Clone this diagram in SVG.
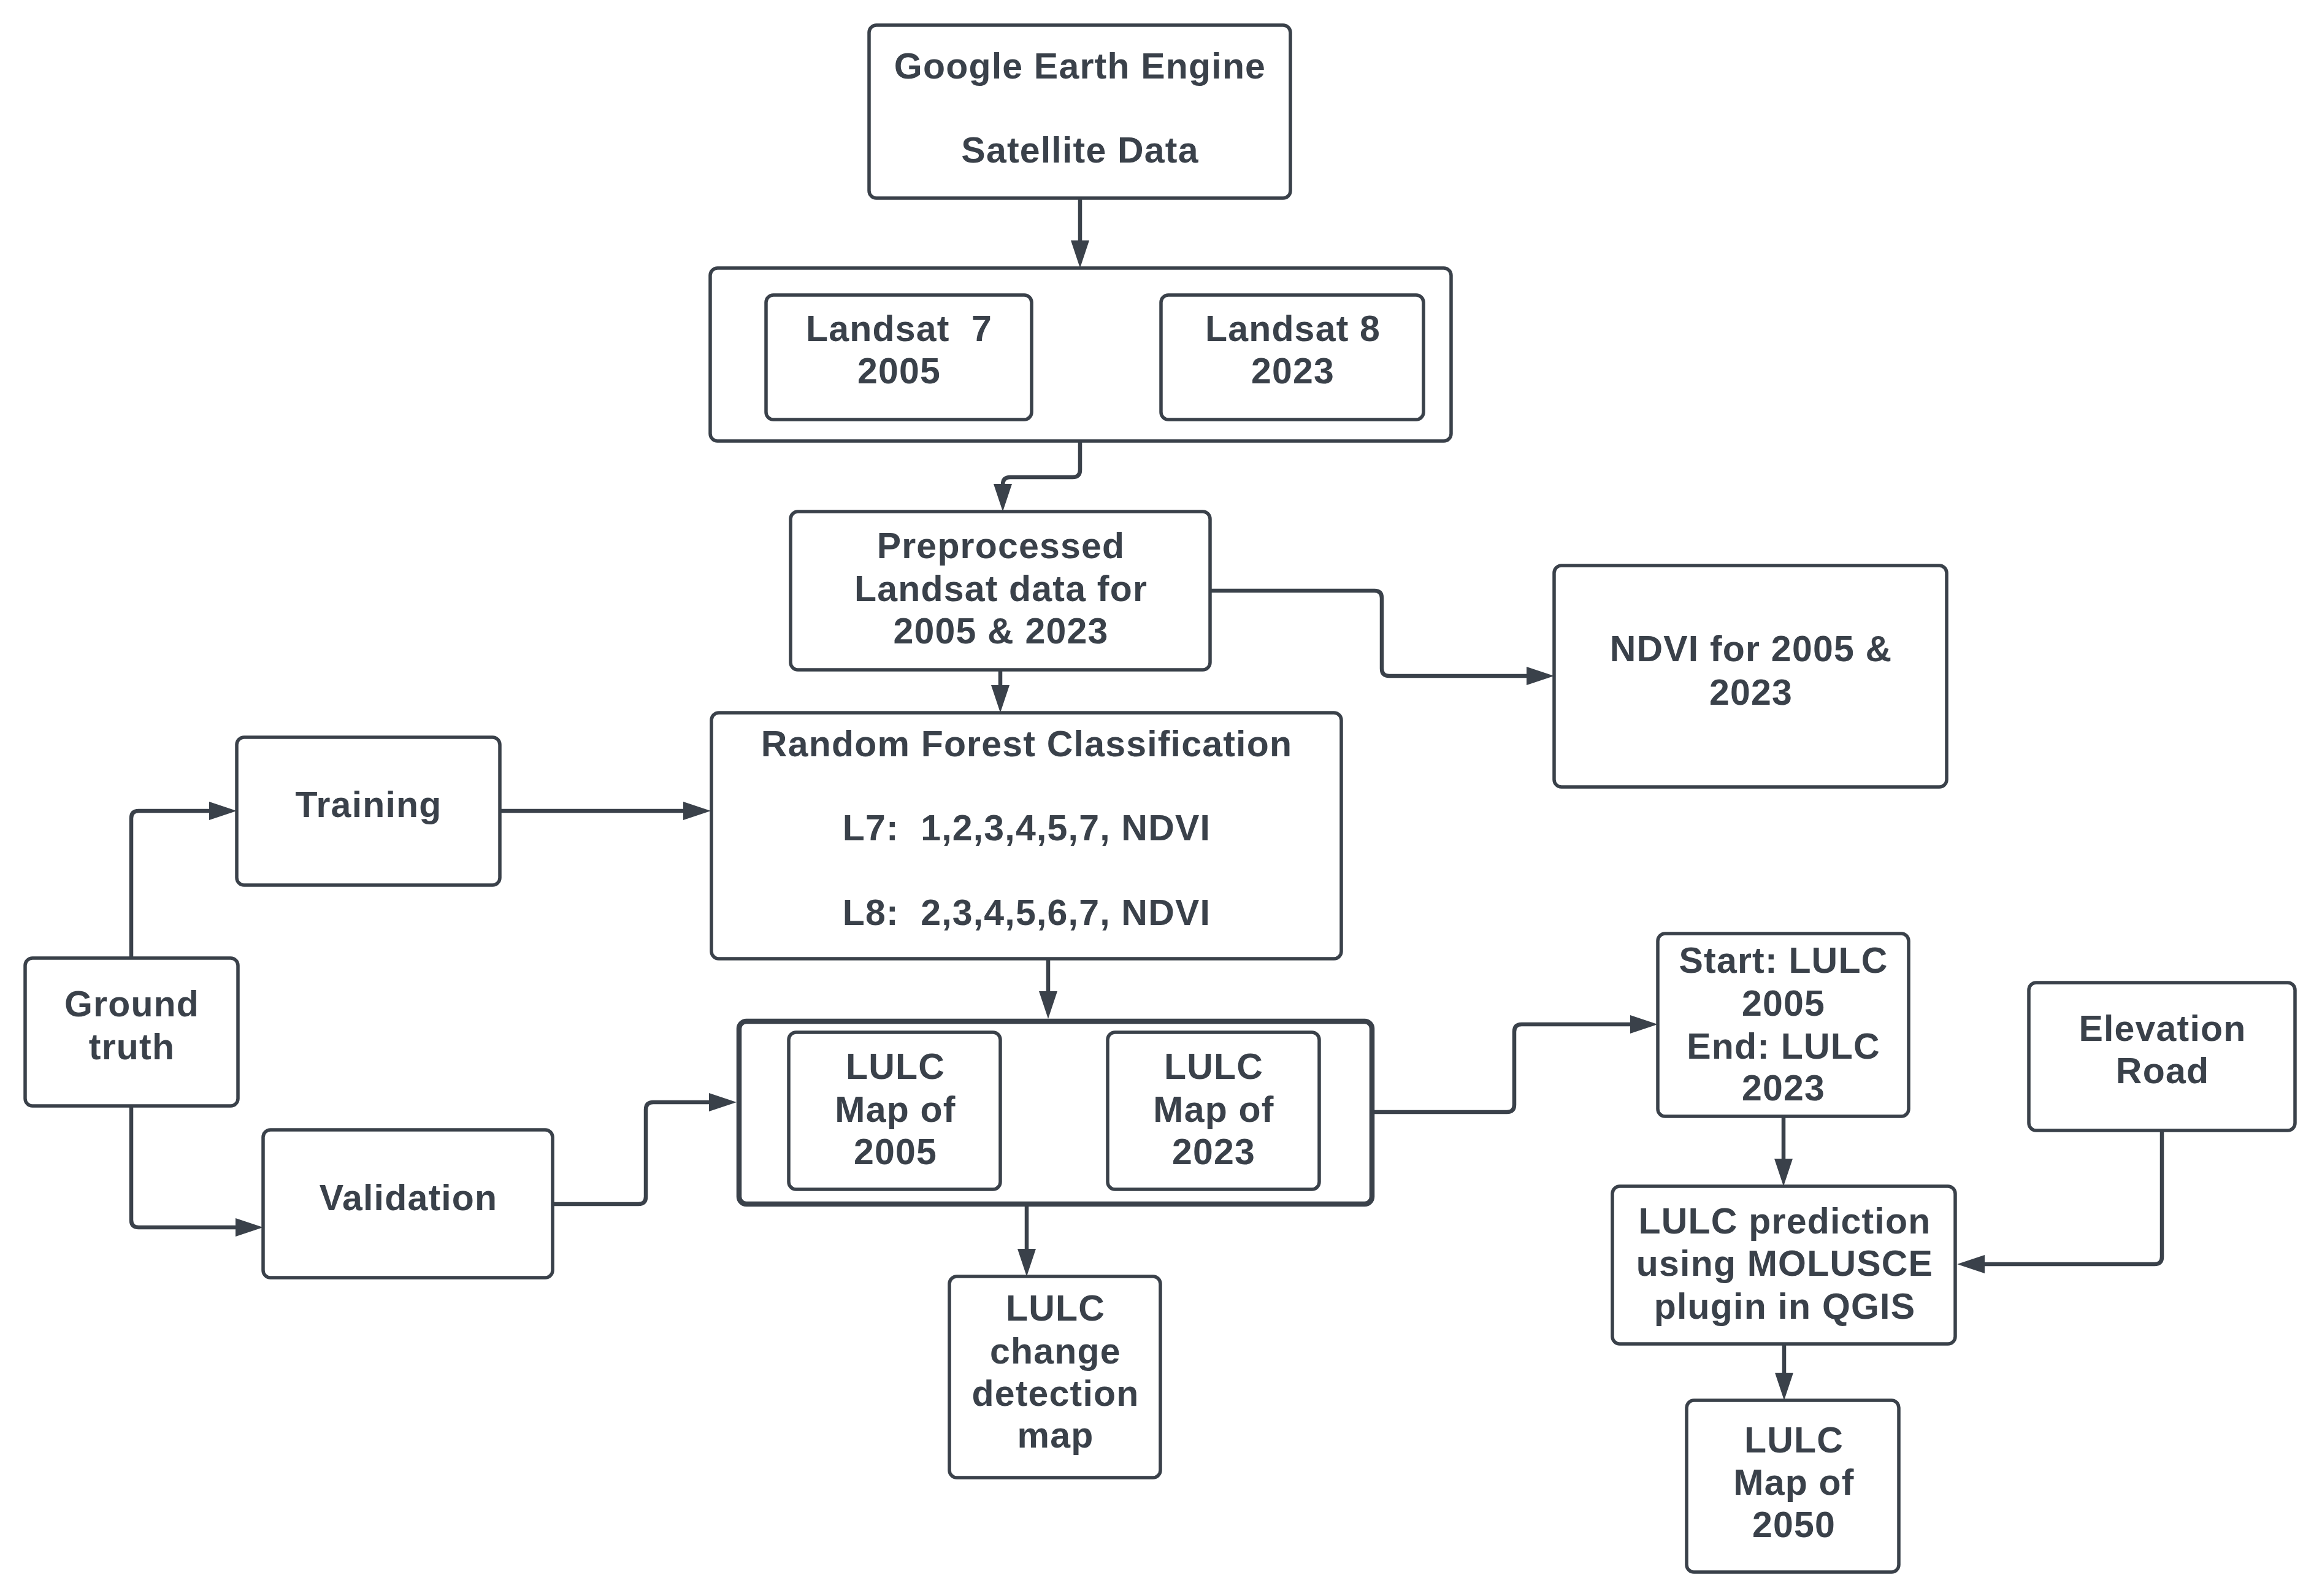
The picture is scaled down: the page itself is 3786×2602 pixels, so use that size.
<svg xmlns="http://www.w3.org/2000/svg" width="3786" height="2602" viewBox="0 0 3786 2602">
<style>
.box{fill:#ffffff;stroke:#3a414a;stroke-width:5.5}
.thick{stroke-width:8.5}
.lbl{font-family:"Liberation Sans",Arial,sans-serif;font-weight:bold;font-size:59px;fill:#3a414a;text-anchor:middle;letter-spacing:1.2px}
.conn{fill:none;stroke:#3a414a;stroke-width:6.5;marker-end:url(#arr)}
</style>
<defs>
<marker id="arr" viewBox="0 0 45 30" refX="5" refY="15" markerWidth="45" markerHeight="30" markerUnits="userSpaceOnUse" orient="auto">
<path d="M0,0 L45,15 L0,30 z" fill="#3a414a"/>
</marker>
</defs>
<rect width="3786" height="2602" fill="#ffffff"/>
<g id="connectors">
<path class="conn" d="M1761,323 V397"/>
<path class="conn" d="M1761,719 V766 Q1761,778 1749,778 H1647 Q1635,778 1635,790 V794"/>
<path class="conn" d="M1973,963 H2241 Q2253,963 2253,975 V1090 Q2253,1102 2265,1102 H2494"/>
<path class="conn" d="M1631,1092 V1122"/>
<path class="conn" d="M815,1322 H1119"/>
<path class="conn" d="M214,1562 V1334 Q214,1322 226,1322 H346"/>
<path class="conn" d="M214,1803 V1989 Q214,2001 226,2001 H389"/>
<path class="conn" d="M901,1963 H1041 Q1053,1963 1053,1951 V1809 Q1053,1797 1065,1797 H1161"/>
<path class="conn" d="M1709,1563 V1621"/>
<path class="conn" d="M1674,1967 V2041"/>
<path class="conn" d="M2241,1813 H2457 Q2469,1813 2469,1801 V1682 Q2469,1670 2481,1670 H2663"/>
<path class="conn" d="M2908,1820 V1894"/>
<path class="conn" d="M3525,1843 V2049 Q3525,2061 3513,2061 H3231"/>
<path class="conn" d="M2909,2191 V2243"/>
</g>
<g id="gee">
<rect class="box" x="1417" y="41" width="687" height="282" rx="12"/>
<text class="lbl" x="1761" y="128">Google Earth Engine</text>
<text class="lbl" x="1761" y="265">Satellite Data</text>
</g>
<g id="landsat-group">
<rect class="box" x="1158" y="437" width="1208" height="282" rx="12"/>
</g>
<g id="landsat7">
<rect class="box" x="1249" y="481" width="433" height="203" rx="12"/>
<text class="lbl" x="1466" y="556" xml:space="preserve">Landsat  7</text>
<text class="lbl" x="1466" y="625">2005</text>
</g>
<g id="landsat8">
<rect class="box" x="1893" y="481" width="428" height="203" rx="12"/>
<text class="lbl" x="2108" y="556">Landsat 8</text>
<text class="lbl" x="2108" y="625">2023</text>
</g>
<g id="preprocessed">
<rect class="box" x="1289" y="834" width="684" height="258" rx="12"/>
<text class="lbl" x="1632" y="910">Preprocessed</text>
<text class="lbl" x="1632" y="980">Landsat data for</text>
<text class="lbl" x="1632" y="1049">2005 &amp; 2023</text>
</g>
<g id="ndvi">
<rect class="box" x="2534" y="922" width="640" height="361" rx="12"/>
<text class="lbl" x="2855" y="1078">NDVI for 2005 &amp;</text>
<text class="lbl" x="2855" y="1149">2023</text>
</g>
<g id="rf">
<rect class="box" x="1160" y="1162" width="1027" height="401" rx="12"/>
<text class="lbl" x="1674" y="1233">Random Forest Classification</text>
<text class="lbl" x="1674" y="1370" xml:space="preserve">L7:  1,2,3,4,5,7, NDVI</text>
<text class="lbl" x="1674" y="1508" xml:space="preserve">L8:  2,3,4,5,6,7, NDVI</text>
</g>
<g id="training">
<rect class="box" x="386" y="1202" width="429" height="241" rx="12"/>
<text class="lbl" x="601" y="1332">Training</text>
</g>
<g id="ground-truth">
<rect class="box" x="41" y="1562" width="347" height="241" rx="12"/>
<text class="lbl" x="215" y="1657">Ground</text>
<text class="lbl" x="215" y="1727">truth</text>
</g>
<g id="validation">
<rect class="box" x="429" y="1842" width="472" height="241" rx="12"/>
<text class="lbl" x="666" y="1973">Validation</text>
</g>
<g id="lulc-maps">
<rect class="box thick" x="1205" y="1665" width="1032" height="298" rx="12"/>
</g>
<g id="lulc2005">
<rect class="box" x="1286" y="1683" width="345" height="256" rx="12"/>
<text class="lbl" x="1460" y="1759">LULC</text>
<text class="lbl" x="1460" y="1829">Map of</text>
<text class="lbl" x="1460" y="1898">2005</text>
</g>
<g id="lulc2023">
<rect class="box" x="1806" y="1683" width="345" height="256" rx="12"/>
<text class="lbl" x="1979" y="1759">LULC</text>
<text class="lbl" x="1979" y="1829">Map of</text>
<text class="lbl" x="1979" y="1898">2023</text>
</g>
<g id="change-detection">
<rect class="box" x="1548" y="2081" width="344" height="328" rx="12"/>
<text class="lbl" x="1721" y="2153">LULC</text>
<text class="lbl" x="1721" y="2223">change</text>
<text class="lbl" x="1721" y="2292">detection</text>
<text class="lbl" x="1721" y="2360">map</text>
</g>
<g id="start-end">
<rect class="box" x="2703" y="1522" width="409" height="298" rx="12"/>
<text class="lbl" x="2908" y="1586">Start: LULC</text>
<text class="lbl" x="2908" y="1656">2005</text>
<text class="lbl" x="2908" y="1726">End: LULC</text>
<text class="lbl" x="2908" y="1794">2023</text>
</g>
<g id="elevation-road">
<rect class="box" x="3308" y="1602" width="434" height="241" rx="12"/>
<text class="lbl" x="3526" y="1697">Elevation</text>
<text class="lbl" x="3526" y="1766">Road</text>
</g>
<g id="prediction">
<rect class="box" x="2629" y="1934" width="559" height="257" rx="12"/>
<text class="lbl" x="2910" y="2011">LULC prediction</text>
<text class="lbl" x="2910" y="2080">using MOLUSCE</text>
<text class="lbl" x="2910" y="2150">plugin in QGIS</text>
</g>
<g id="lulc2050">
<rect class="box" x="2750" y="2283" width="346" height="280" rx="12"/>
<text class="lbl" x="2925" y="2368">LULC</text>
<text class="lbl" x="2925" y="2437">Map of</text>
<text class="lbl" x="2925" y="2506">2050</text>
</g>
</svg>
